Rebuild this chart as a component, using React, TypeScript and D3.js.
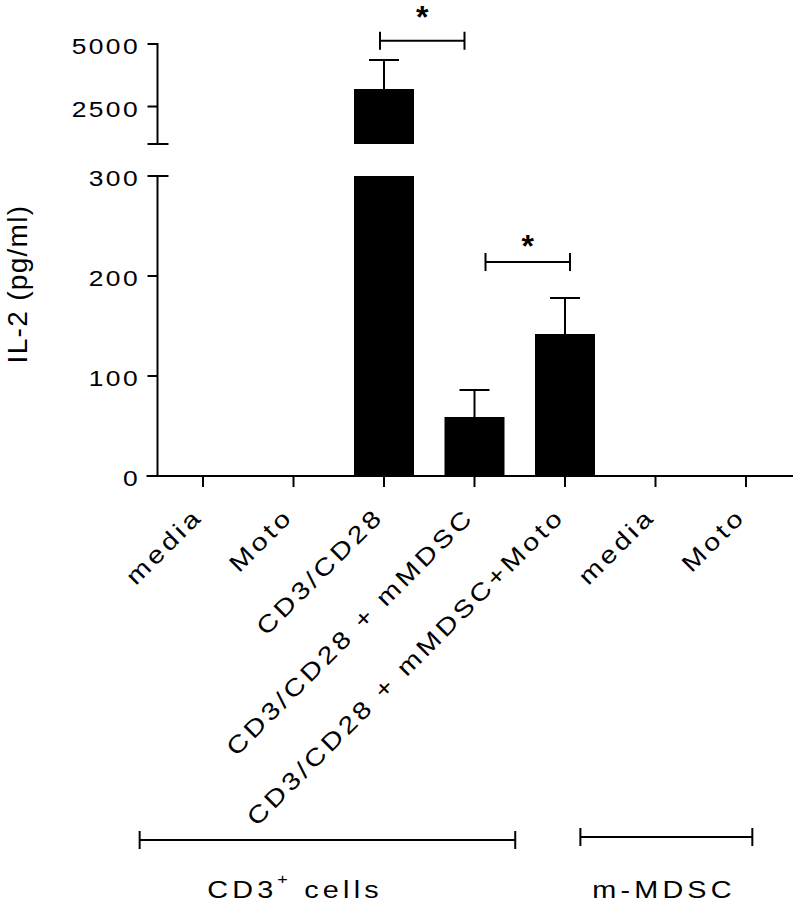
import React from "react";
import * as d3 from "d3";

// values (pg/ml)
const categories = ["media", "Moto", "CD3/CD28", "CD3/CD28 + mMDSC", "CD3/CD28 + mMDSC+Moto", "media", "Moto"];
const means = [0, 0, 3200, 59, 142, 0, 0];
const sems = [0, 0, 1160, 27, 36, 0, 0];
const lowTicks = [0, 100, 200, 300];
const highTicks = [2500, 5000];
const groupNames = ["CD3", "m-MDSC"];
const groupRanges = [[0, 4], [5, 6]];
const sigPairs = [[2, 3], [3, 4]];
const sigLevels = [5130, 214];

const FONT = "Liberation Sans, Arial, Helvetica, sans-serif";
const SX = 1.2; // the original glyphs are wider than Arial

export default function App() {
  const width = 800;
  const height = 904;
  const axisX = 157.5;

  const x = d3.scalePoint<number>().domain(d3.range(categories.length)).range([203, 746]);
  const step = x.step();
  const yLow = d3.scaleLinear().domain([0, 300]).range([476, 176]);
  const yHigh = d3.scaleLinear().domain([1000, 5000]).range([144, 44]);
  const yVal = (v: number) => (v <= 300 ? yLow(v) : yHigh(v));

  const barW = 60;
  const capW = 15;

  // layout tweaks for brackets (fractions of a step)
  const groupPad = [[0.7, -0.55], [0.83, 0.07]];
  const groupY = [840, 837];
  const sigOffsets = [[-4, -10], [11, 5]];
  const starGap = [13, 5];

  return (
    <svg
      width={width}
      height={height}
      style={{ position: "absolute", left: 0, top: 0, background: "#fff" }}
      fontFamily={FONT}
    >
      {/* bars */}
      <g fill="#000">
        {means.map((m, i) => {
          if (m <= 0) return null;
          const cx = x(i)!;
          if (m > 300) {
            return (
              <g key={i}>
                <rect x={cx - barW / 2} y={yLow(300)} width={barW} height={yLow(0) - yLow(300)} />
                <rect x={cx - barW / 2} y={yHigh(m)} width={barW} height={yHigh(1000) - yHigh(m)} />
              </g>
            );
          }
          return <rect key={i} x={cx - barW / 2} y={yLow(m)} width={barW} height={yLow(0) - yLow(m)} />;
        })}
      </g>

      {/* error bars (upper only) */}
      <g stroke="#000" strokeWidth={2} fill="none">
        {means.map((m, i) => {
          if (m <= 0) return null;
          const cx = x(i)!;
          const top = yVal(m + sems[i]);
          return (
            <g key={i}>
              <line x1={cx} x2={cx} y1={yVal(m)} y2={top} />
              <line x1={cx - capW} x2={cx + capW} y1={top} y2={top} />
            </g>
          );
        })}
      </g>

      {/* y axis, upper segment */}
      <g stroke="#000" strokeWidth={2}>
        <line x1={axisX} x2={axisX} y1={yHigh(5000) - 1} y2={yHigh(1000)} />
        {highTicks.map((t) => (
          <line key={t} x1={axisX - 10} x2={axisX} y1={yHigh(t)} y2={yHigh(t)} />
        ))}
        <line x1={axisX - 10} x2={axisX + 11} y1={yHigh(1000)} y2={yHigh(1000)} />
        {/* lower segment */}
        <line x1={axisX} x2={axisX} y1={yLow(300)} y2={yLow(0)} />
        {lowTicks.filter((t) => t > 0 && t < 300).map((t) => (
          <line key={t} x1={axisX - 10} x2={axisX} y1={yLow(t)} y2={yLow(t)} />
        ))}
        <line x1={axisX - 10} x2={axisX + 11} y1={yLow(300)} y2={yLow(300)} />
        {/* x axis */}
        <line x1={axisX - 11} x2={793} y1={yLow(0)} y2={yLow(0)} />
        {categories.map((_, i) => (
          <line key={i} x1={x(i)!} x2={x(i)!} y1={yLow(0)} y2={yLow(0) + 11} />
        ))}
      </g>

      {/* y tick labels */}
      <g fontSize={22} textAnchor="end" letterSpacing={2}>
        {highTicks.map((t) => (
          <text key={t} transform={`translate(140,${yHigh(t) + 10}) scale(${SX},1)`}>{t}</text>
        ))}
        {lowTicks.map((t) => (
          <text key={t} transform={`translate(140,${yLow(t) + 10}) scale(${SX},1)`}>{t}</text>
        ))}
      </g>

      {/* y title */}
      <text
        transform={`translate(27,284) rotate(-90)`}
        textAnchor="middle"
        fontSize={28}
        letterSpacing={1.3}
      >
        IL-2 (pg/ml)
      </text>

      {/* x labels */}
      <g fontSize={24} textAnchor="end" letterSpacing={3}>
        {categories.map((c, i) => (
          <text key={i} transform={`translate(${x(i)! + 1},518) rotate(-45) scale(${SX},1)`}>
            {c}
          </text>
        ))}
      </g>

      {/* significance brackets */}
      {sigPairs.map(([a, b], k) => {
        const x1 = x(a)! + sigOffsets[k][0];
        const x2 = x(b)! + sigOffsets[k][1];
        const y = yVal(sigLevels[k]);
        return (
          <g key={k}>
            <g stroke="#000" strokeWidth={2}>
              <line x1={x1} x2={x2} y1={y} y2={y} />
              <line x1={x1} x2={x1} y1={y - 9} y2={y + 9} />
              <line x1={x2} x2={x2} y1={y - 9} y2={y + 9} />
            </g>
            <text x={(x1 + x2) / 2} y={y - starGap[k]} textAnchor="middle" fontSize={32} fontWeight="bold">
              *
            </text>
          </g>
        );
      })}

      {/* group brackets */}
      {groupRanges.map(([a, b], k) => {
        const x1 = x(a)! - groupPad[k][0] * step;
        const x2 = x(b)! + groupPad[k][1] * step;
        const y = groupY[k];
        return (
          <g key={k} stroke="#000" strokeWidth={2}>
            <line x1={x1} x2={x2} y1={y} y2={y} />
            <line x1={x1} x2={x1} y1={y - 9} y2={y + 9} />
            <line x1={x2} x2={x2} y1={y - 9} y2={y + 9} />
          </g>
        );
      })}
      <g fontSize={24} letterSpacing={3.5} textAnchor="middle">
        <text transform={`translate(295,898) scale(${SX},1)`}>
          {groupNames[0]}
          <tspan dy={-14} fontSize={15}>+</tspan>
          <tspan dy={14}> cells</tspan>
        </text>
        <text transform={`translate(664,898) scale(${SX},1)`}>{groupNames[1]}</text>
      </g>
    </svg>
  );
}
